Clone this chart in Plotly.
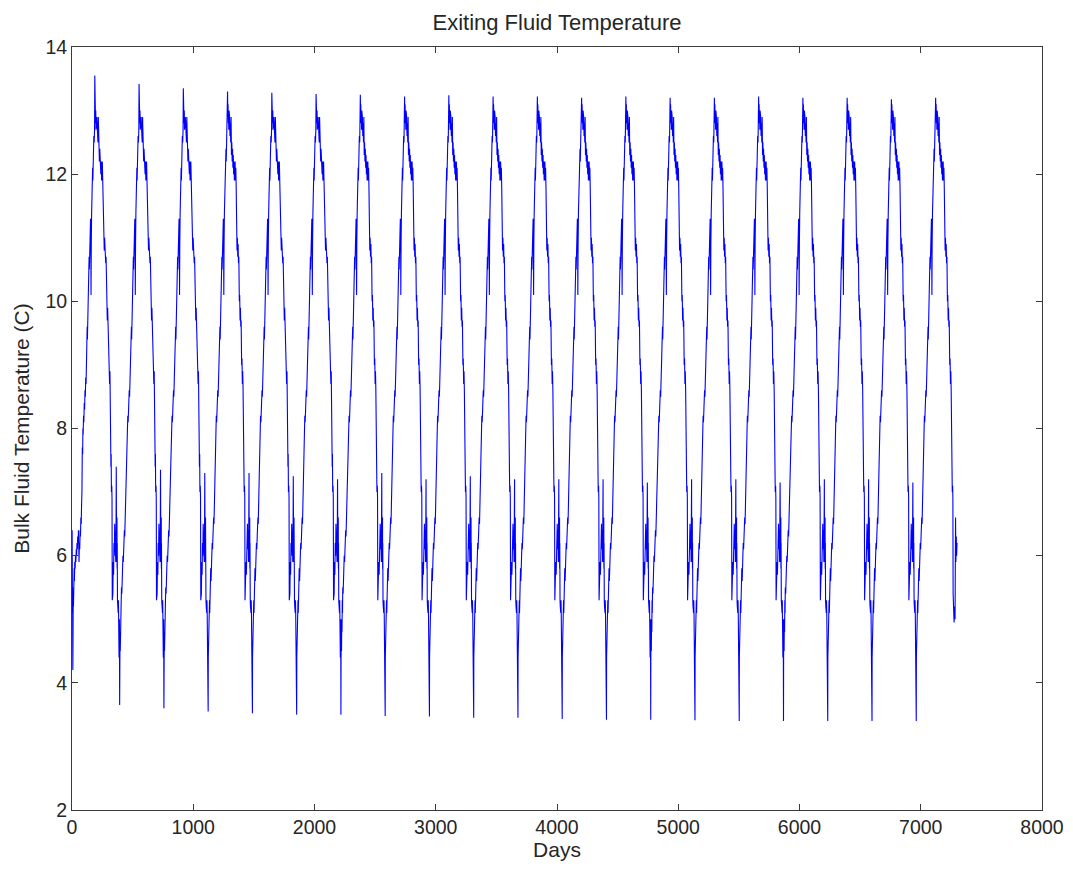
import plotly.graph_objects as go

# ---- data (days within a year -> temperature, C) ----
cycle_phase = [0, 1, 2, 3, 4, 5, 6, 7, 8,
               10, 12, 14, 16, 18, 20,
               21, 22, 23, 24, 25, 26, 27,
               28,
               29, 31, 33, 35, 37, 39, 41, 43,
               46, 49, 52, 55, 58, 61, 64, 67, 70, 73, 76, 79, 82,
               85, 88, 90, 92, 95, 98, 101, 104, 107, 110, 113, 116, 119,
               121, 123, 125, 127, 129, 131, 133,
               135, 137, 139, 141, 143, 145, 147, 149, 151, 153, 155,
               157,
               159, 162, 165, 167, 170, 172, 175, 177, 180, 183, 186,
               188,
               190, 192, 194, 196, 198, 200, 202, 205, 208, 211, 214,
               217,
               220, 223, 226, 229, 232, 235, 238, 241, 244, 247, 250, 253, 256, 259,
               263, 266, 269, 272, 275, 278, 281,
               285, 288, 291, 294, 297, 300,
               304, 307, 310, 313, 316,
               319, 321, 323, 325, 328, 330,
               332, 334, 337, 340, 343, 346, 349, 352, 355, 358, 361, 363]
cycle_temp = [7.4, 6.1, 6.5, 5.9, 6.4, 6.0, 6.6, 5.8, 6.2,
              5.3, 5.2, 5.3, 5.1, 5.3, 5.1,
              4.6, 5.0, 4.4, 4.9, 4.5, 5.0, 4.6,
              3.6,
              4.4, 4.8, 4.5, 5.0, 4.8, 5.3, 5.1, 5.5,
              5.4, 5.8, 5.6, 6.0, 5.9, 6.2, 6.1, 6.4, 6.3, 6.6, 6.5, 6.8, 7.0,
              7.7, 7.6, 8.0, 7.9, 8.2, 8.1, 8.4, 8.3, 8.6, 8.5, 8.8, 8.7, 9.0,
              9.5, 9.3, 9.6, 9.4, 9.7, 9.5, 9.7,
              10.3, 10.5, 10.3, 10.7, 10.5, 10.9, 10.7, 11.1, 10.9, 11.3, 11.1,
              10.1,
              10.9, 11.4, 11.8, 11.6, 12.1, 11.9, 12.4, 12.2, 12.6, 12.5, 12.7,
              13.5,
              12.9, 13.1, 12.8, 13.0, 12.7, 13.0, 12.8, 12.9, 12.6, 12.8, 12.5,
              12.9,
              12.3, 12.5, 12.2, 12.4, 12.1, 12.3, 12.0, 12.2, 11.9, 12.0, 12.2, 11.9, 12.1, 11.8,
              11.1, 10.8, 11.0, 10.7, 10.9, 10.6, 10.7,
              10.0, 10.1, 9.7, 9.9, 9.6, 9.7,
              9.0, 9.1, 8.7, 8.9, 8.6,
              7.8, 7.4, 7.6, 7.0, 7.1, 6.9,
              5.3, 5.6, 5.4, 5.9, 5.7, 6.2, 6.0, 6.5, 6.1, 6.4, 5.9, 6.3]

# first year start (replaces the cycle before day 55)
first_phase = [0, 1, 2, 3, 4, 5, 6, 7, 8, 10, 12, 14, 16, 18, 20, 23, 26, 29,
               32, 35, 38, 41, 44, 47, 50, 53]
first_temp = [5.6, 6.4, 5.4, 5.9, 5.1, 5.5, 4.6, 4.2, 4.8, 5.3, 5.2, 5.6, 5.4,
              5.8, 5.6, 5.9, 5.8, 6.0, 5.9, 6.1, 6.0, 6.2, 6.1, 6.3, 6.2, 6.4]

# last year tail (replaces the cycle from day 332 on)
last_phase = [332, 336, 340, 344, 348, 352, 355, 358, 361, 364]
last_temp = [5.4, 5.1, 4.95, 5.2, 5.0, 6.6, 5.9, 6.3, 6.0, 6.2]

# per-year extremes
year_peak = [13.55, 13.42, 13.35, 13.3, 13.28, 13.26, 13.25, 13.22, 13.24, 13.22,
             13.22, 13.2, 13.22, 13.2, 13.2, 13.22, 13.2, 13.2, 13.18, 13.2]
year_min = [3.65, 3.6, 3.55, 3.52, 3.5, 3.5, 3.48, 3.47, 3.45, 3.45,
            3.43, 3.42, 3.42, 3.41, 3.4, 3.4, 3.4, 3.4, 3.4]
year_spike = [7.4, 7.35, 7.3, 7.3, 7.25, 7.2, 7.3, 7.2, 7.25, 7.2,
              7.2, 7.2, 7.15, 7.2, 7.2, 7.15, 7.2, 7.2, 7.15]

year_days = 365
n_years = len(year_peak)

x_tick_vals = [0, 1000, 2000, 3000, 4000, 5000, 6000, 7000, 8000]
y_tick_vals = [2, 4, 6, 8, 10, 12, 14]

# ---- assemble the daily series ----
days, temps = [], []
for k in range(n_years):
    pts = list(zip(cycle_phase, cycle_temp))
    pts = [(p, (year_peak[k] if p == 188 else t)) for p, t in pts]
    if k == 0:
        pts = list(zip(first_phase, first_temp)) + [(p, t) for p, t in pts if p >= 55]
    else:
        pts = [(p, (year_spike[k - 1] if p == 0 else year_min[k - 1] if p == 28 else t))
               for p, t in pts]
    if k == n_years - 1:
        pts = [(p, t) for p, t in pts if p < 332] + list(zip(last_phase, last_temp))
    for p, t in pts:
        days.append(k * year_days + p)
        temps.append(t)

font_family = "Liberation Sans, Arial, Helvetica, sans-serif"
text_col = "#262626"
axis_col = "#3a3a3a"

# page has an 8px body margin; figure sized so it fits the 1073x872 window
W, H = 1057, 856

fig = go.Figure()
fig.add_trace(go.Scatter(x=days, y=temps, mode="lines",
                         line=dict(color="#0000ff", width=1.1),
                         showlegend=False, hoverinfo="skip"))

fig.update_layout(
    width=W, height=H,
    margin=dict(l=64, r=23, t=39, b=54, autoexpand=False),
    paper_bgcolor="white", plot_bgcolor="white",
    font=dict(family=font_family, size=19, color=text_col),
    title=dict(text="Exiting Fluid Temperature", x=(64 + W - 23) / 2 / W, xanchor="center",
               y=1 - 14 / H, yanchor="middle",
               font=dict(family=font_family, size=22, color=text_col)),
)
fig.update_xaxes(
    range=[0, 8000], tickvals=x_tick_vals, ticktext=[str(v) for v in x_tick_vals],
    automargin=False,
    showgrid=False, zeroline=False, showline=True, linecolor=axis_col, linewidth=1,
    mirror="ticks", ticks="inside", ticklen=6, tickcolor=axis_col,
    tickfont=dict(size=19.5, color=text_col),
    title=dict(text="Days", standoff=4, font=dict(size=21, color=text_col)),
)
fig.update_yaxes(
    range=[2, 14], tickvals=y_tick_vals, ticktext=[str(v) for v in y_tick_vals],
    automargin=False,
    showgrid=False, zeroline=False, showline=True, linecolor=axis_col, linewidth=1,
    mirror="ticks", ticks="inside", ticklen=6, tickcolor=axis_col,
    tickfont=dict(size=19.5, color=text_col),
    title=dict(text="Bulk Fluid Temperature (C)", standoff=10, font=dict(size=21, color=text_col)),
)

fig.write_html("out.html")
